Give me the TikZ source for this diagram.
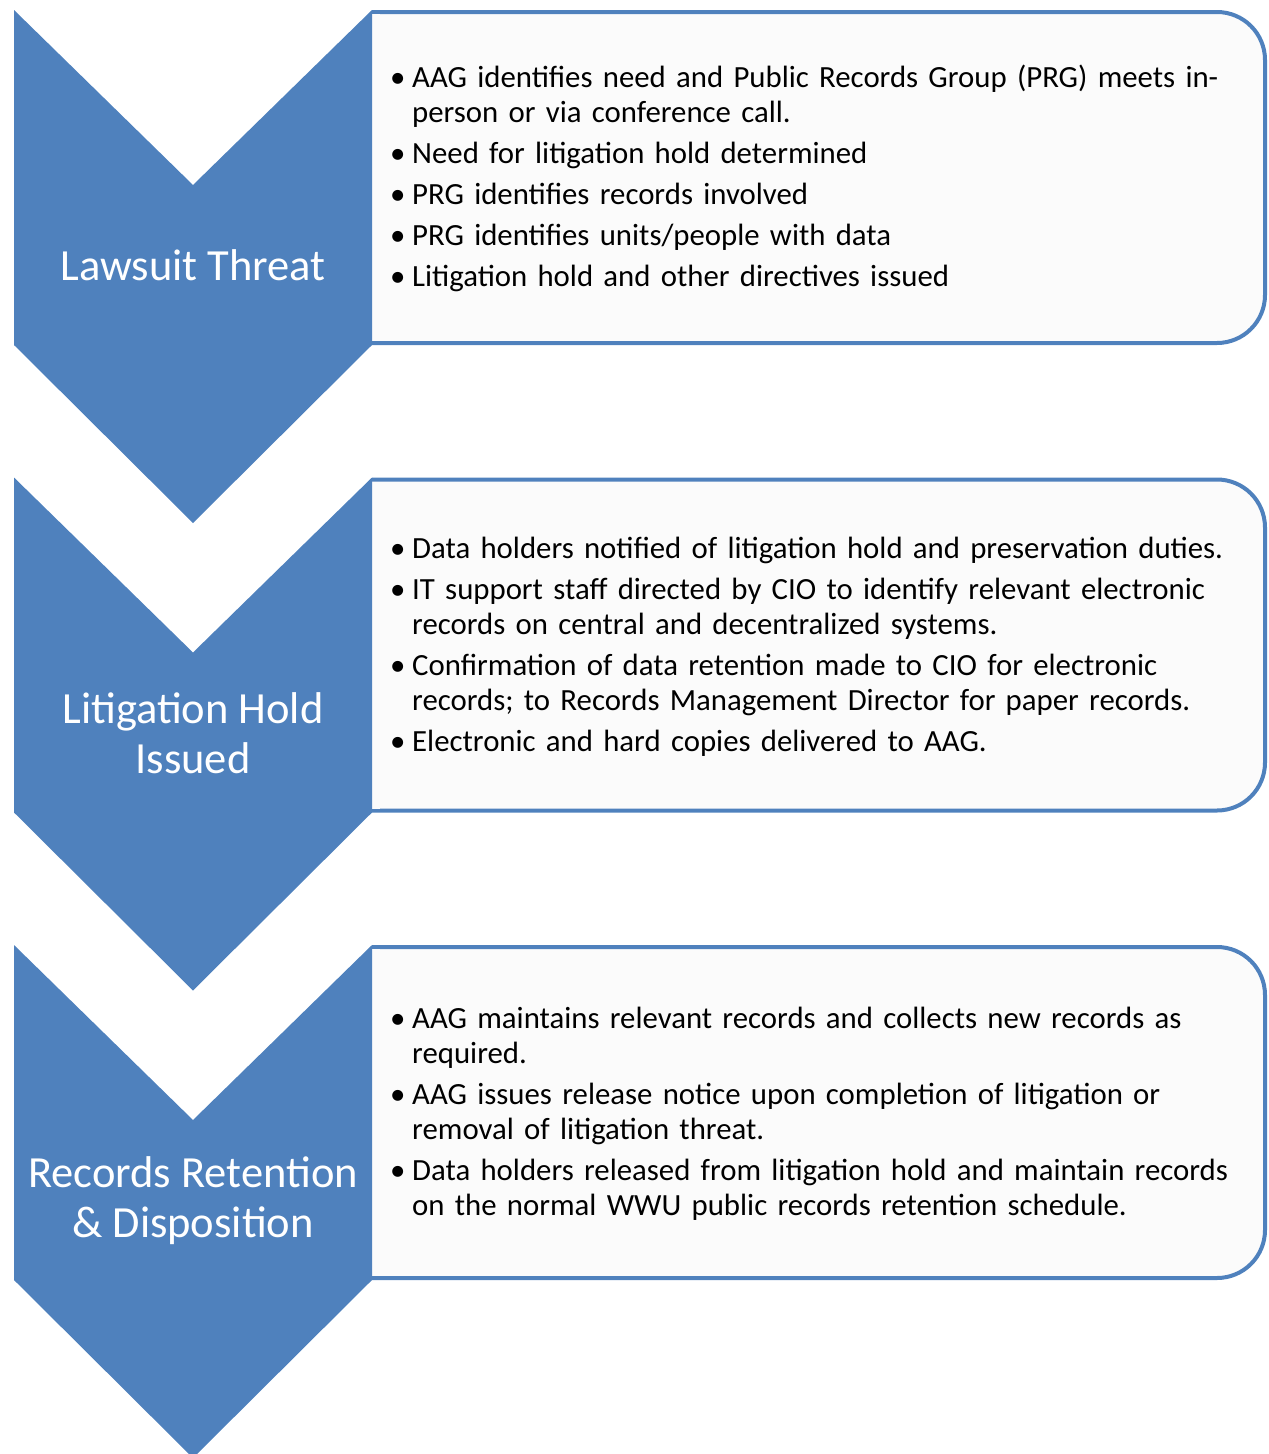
\documentclass[tikz,border=0pt]{standalone}
\usepackage{fontspec}
\setmainfont{Carlito}
\definecolor{chevblue}{RGB}{79,129,189}
\definecolor{boxfill}{RGB}{251,251,251}
\newcommand\bitem[1]{\par\hangindent=24pt\hangafter=1\noindent\makebox[24pt][l]{\hspace{2pt}\textbullet}#1\par}
\tikzset{
  chev/.style={fill=chevblue, draw=none},
  infobox/.style={fill=boxfill, draw=chevblue, line width=4pt, rounded corners=48pt},
  chevlabel/.style={text=white, align=center, font=\fontsize{44.5}{50}\selectfont},
  boxtext/.style={anchor=west, text width=870pt, align=left, inner sep=0pt,
    font=\fontsize{30.8}{35}\selectfont\setlength{\parskip}{6pt}}
}
\begin{document}
\begin{tikzpicture}[x=1pt,y=-1pt]
\useasboundingbox (0,0) rectangle (1269,1454);
\clip (0,0) rectangle (1269,1454);
% boxes and chevrons
\foreach \T in {10,477.5,945}{
  \draw[infobox] (372,\T+2) -- (1265,\T+2) -- (1265,\T+333) -- (372,\T+333);
  \fill[boxfill] (372,\T+4) rectangle (380,\T+331);
  \fill[chev] (14,\T) -- (193,\T+175) -- (372,\T) -- (372,\T+335) -- (193,\T+513) -- (14,\T+335) -- cycle;
}
\node[chevlabel] (l1) at (193,265) {Lawsuit Threat};
\node[chevlabel] (l2) at (193,733) {Litigation Hold\\Issued};
\node[chevlabel] (l3) at (193,1201) {Records Retention\\\& Disposition};
\node[boxtext] (t1) at (388,169) {%
\bitem{AAG identifies need and Public Records Group (PRG) meets in-\newline person or via conference call.}%
\bitem{Need for litigation hold determined}%
\bitem{PRG identifies records involved}%
\bitem{PRG identifies units/people with data}%
\bitem{Litigation hold and other directives issued}};
\node[boxtext] (t2) at (388,637) {%
\bitem{Data holders notified of litigation hold and preservation duties.}%
\bitem{IT support staff directed by CIO to identify relevant electronic\newline records on central and decentralized systems.}%
\bitem{Confirmation of data retention made to CIO for electronic\newline records; to Records Management Director for paper records.}%
\bitem{Electronic and hard copies delivered to AAG.}};
\node[boxtext] (t3) at (388,1104) {%
\bitem{AAG maintains relevant records and collects new records as\newline required.}%
\bitem{AAG issues release notice upon completion of litigation or\newline removal of litigation threat.}%
\bitem{Data holders released from litigation hold and maintain records\newline on the normal WWU public records retention schedule.}};
\end{tikzpicture}
\end{document}
